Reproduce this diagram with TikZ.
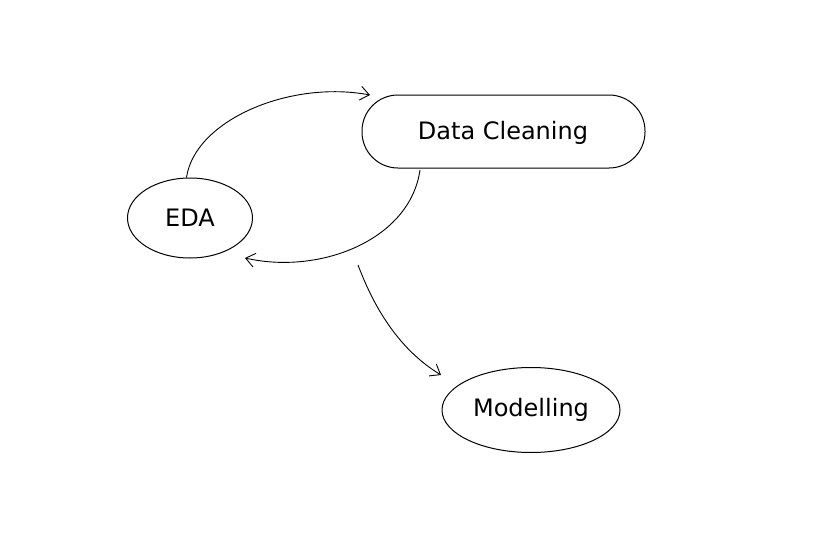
\documentclass[tikz,border=0pt]{standalone}
\usepackage{fontspec}
\setmainfont{DejaVu Sans}
\usetikzlibrary{shapes.geometric,arrows.meta}
\begin{document}
\begin{tikzpicture}[x=1pt,y=-1pt,
  blob/.style={draw,line width=1pt,ellipse,inner sep=0pt,font=\fontsize{24}{28}\selectfont},
  conn/.style={draw,line width=0.9pt,-{Straight Barb[length=9pt,width=14pt]}}]
\useasboundingbox (0,0) rectangle (838,538);
\node[blob,minimum width=125pt,minimum height=80pt] (eda) at (190,218) {EDA};
\node[blob,draw=none,minimum width=285pt,minimum height=75pt] (dc) at (503,133) {Data Cleaning};
\draw[line width=1pt,rounded corners=36pt] (362,95) rectangle (645,168);
\node[blob,minimum width=178pt,minimum height=85pt] (mod) at (531,410) {Modelling};
\coordinate (dcl) at (370,95);
\coordinate (dcb) at (420,170);
\coordinate (dcb2) at (358,265);
\coordinate (edain) at (245,258);
\coordinate (modin) at (441,375);
\draw[conn] (eda.95) .. controls (195,120) and (290,80) .. (dcl);
\draw[conn] (dcb) .. controls (410,240) and (320,275) .. (edain);
\draw[conn] (dcb2) .. controls (375,310) and (400,350) .. (modin);
\end{tikzpicture}
\end{document}
